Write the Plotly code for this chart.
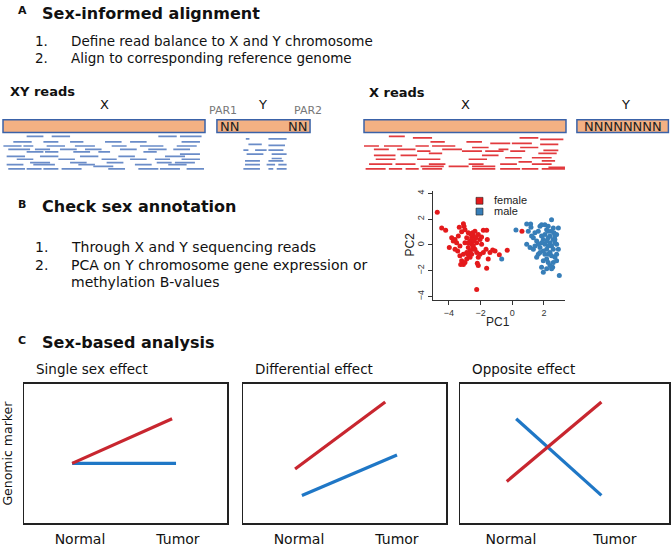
import plotly.graph_objects as go

W, H = 672, 547
FONT = "DejaVu Sans"
SANS = "Liberation Sans"

# ---------------- data ----------------
# Panel A: chromosome bars (genome units)
xy_chrom_start = [0, 105.9]
xy_chrom_end = [100, 152.0]
x_chrom_start = [0, 105.4]
x_chrom_end = [100, 150.7]
bar_depth = [-5.15, -0.15]

# XY reads (blue): start, end, depth
xy_read_start = [11.7, 24.1, 76.9, 87.6,
                 5.1, 20.0, 33.2, 50.5, 62.9, 88.4,
                 0.2, 10.1, 21.6, 35.6, 53.8, 67.8, 86.0,
                 2.6, 15.8, 28.2, 40.6, 57.9, 71.9, 84.3,
                 11.7, 20.8, 34.8, 47.2, 69.5,
                 87.6,
                 1.8, 18.3, 38.1, 57.1, 80.2,
                 6.8, 27.4, 48.8, 62.9, 75.2, 88.4,
                 13.4, 33.2, 51.3, 76.1, 85.1,
                 1.8, 15.0, 37.3, 65.3, 81.8,
                 44.7,
                 2.6, 11.7, 20.0, 29.0, 52.1, 67.0, 77.7, 90.9,
                 120.2, 131.4, 121.5, 131.4, 119.0, 124.8, 131.4,
                 120.6, 133.0, 133.0, 119.8, 131.4,
                 119.8, 130.5, 136.3, 119.0, 131.4, 135.5]
xy_read_end = [20.0, 33.2, 86.0, 98.3,
               14.2, 27.4, 39.8, 58.7, 71.1, 97.5,
               9.2, 15.0, 30.7, 45.5, 61.2, 79.4, 95.9,
               13.4, 23.3, 36.5, 48.8, 66.2, 81.0, 92.6,
               20.0, 27.4, 43.1, 53.0, 76.1,
               97.5,
               10.9, 27.4, 47.2, 65.3, 90.1,
               15.0, 35.6, 56.3, 71.1, 82.7, 97.5,
               23.3, 41.4, 59.6, 83.5, 95.0,
               10.1, 25.7, 45.5, 73.6, 90.9,
               54.6,
               10.9, 19.1, 27.4, 38.9, 60.4, 76.9, 87.6, 99.5,
               122.0, 140.4, 128.1, 139.6, 121.5, 130.5, 138.8,
               128.9, 140.4, 138.0, 127.2, 138.8,
               127.2, 134.7, 140.4, 127.2, 133.8, 140.4]
xy_read_depth = [1.3, 1.3, 1.3, 1.3,
                 3.5, 3.5, 3.5, 3.5, 3.5, 3.5,
                 5.1, 5.1, 5.1, 5.1, 5.1, 5.1, 5.1,
                 6.4, 6.4, 6.4, 6.4, 6.4, 6.4, 6.4,
                 7.4, 7.4, 7.4, 7.4, 7.4,
                 8.3,
                 9.2, 9.2, 9.2, 9.2, 9.2,
                 10.3, 10.3, 10.3, 10.3, 10.3, 10.3,
                 11.6, 11.6, 11.6, 11.6, 11.6,
                 12.4, 12.4, 12.4, 12.4, 12.4,
                 13.1,
                 14.1, 14.1, 14.1, 14.1, 14.1, 14.1, 14.1, 14.1,
                 2.3, 2.3, 4.5, 4.9, 6.7, 6.7, 6.7,
                 8.3, 8.3, 10.0, 10.9, 10.9,
                 12.4, 12.4, 12.4, 14.1, 14.1, 14.1]

# X reads (red): start, end, depth
x_read_start = [12.3, 24.2, 77.0, 87.2, 32.9, 50.7, 62.5, 73.2, 87.2,
                0.0, 9.9, 25.5, 33.7, 53.5, 77.3,
                4.9, 16.4, 38.7, 66.6, 88.8,
                26.3, 48.5, 60.0, 72.4, 32.1, 86.3,
                4.9, 18.1, 58.4, 69.9, 83.1,
                5.8, 26.3, 51.8, 88.0, 76.5,
                2.5, 15.6, 32.1, 51.8, 67.4, 83.1,
                28.0, 41.9, 53.5, 91.3,
                0.8, 12.3, 20.6, 28.8, 53.5, 67.4, 78.1, 88.0]
x_read_end = [20.2, 33.7, 86.3, 98.7, 40.0, 58.4, 72.4, 83.1, 96.2,
              7.4, 18.9, 32.1, 45.2, 61.7, 86.3,
              12.3, 25.5, 48.5, 71.5, 96.2,
              32.9, 58.4, 69.1, 79.8, 38.7, 95.4,
              15.6, 26.3, 66.6, 78.1, 92.9,
              15.6, 37.8, 60.9, 94.6, 83.1,
              14.0, 25.5, 40.3, 59.2, 75.7, 92.9,
              39.5, 51.8, 65.0, 99.5,
              10.7, 18.9, 27.1, 38.7, 65.0, 77.3, 86.3, 99.5]
x_read_depth = [1.3, 1.9, 1.9, 2.5, 3.5, 3.5, 4.1, 4.1, 4.5,
                5.1, 5.1, 5.1, 5.1, 5.7, 5.7,
                6.4, 6.4, 6.4, 6.4, 6.8,
                7.1, 7.1, 7.1, 7.1, 8.0, 8.0,
                8.8, 8.8, 8.8, 9.7, 9.7,
                10.3, 10.3, 10.3, 10.9, 11.3,
                12.2, 12.2, 12.2, 12.2, 12.2, 12.2,
                13.1, 13.1, 13.1, 13.5,
                14.1, 14.1, 14.1, 14.1, 14.1, 14.1, 14.1, 14.1]

# Panel B: PCA
female_pc1 = [-4.74, -4.46, -4.21, -3.98, -3.83, -3.73, -3.62, -3.41, -3.35, -3.09,
              -3.05, -2.99, -3.20, -3.52, -3.45, -3.31, -3.20, -3.26, -3.09, -2.99,
              -2.88, -2.78, -2.67, -2.78, -2.57, -2.67, -2.57, -2.46, -2.51, -2.36,
              -2.63, -2.88, -2.99, -2.78, -2.46, -2.36, -2.25, -2.15, -2.04, -1.94,
              -2.04, -1.94, -2.15, -2.29, -2.42, -2.25, -2.51, -2.57, -2.67, -2.88,
              -3.09, -1.83, -1.62, -1.58, -1.66, -1.52, -1.41, -1.24, -1.62, -2.15,
              -2.21, -1.09, -0.82, -0.32, -2.25, 0.61, -3.31, -3.62, -1.83, -2.78]
female_pc2 = [2.54, 1.32, 1.14, -0.20, 0.56, 0.30, 0.43, 0.69, 1.37, 1.65,
              1.45, 1.19, 1.02, 0.18, -0.46, -0.84, -1.22, -1.52, -1.52, -1.35,
              -1.09, -0.76, -0.46, -0.20, 0.05, 0.30, 0.56, 0.76, 0.94, 1.07,
              0.86, 0.56, 0.18, 0.18, -0.08, -0.33, -0.58, -0.96, -0.71, 0.05,
              0.43, 0.61, 0.81, 0.56, 0.30, 0.18, -0.33, -0.71, -0.96, -0.58,
              -0.71, 1.14, 1.14, 0.43, -0.33, -1.09, -0.58, -0.38, -1.80, -1.60,
              -1.42, -0.46, -0.76, -0.41, -3.45, 1.07, -0.08, -0.33, -0.58, 0.94]
male_pc1 = [-0.67, 0.23, 0.91, 1.16, 1.18, 1.01, 0.91, 1.12, 1.33, 1.43,
            1.54, 1.33, 1.22, 1.43, 1.64, 1.75, 1.85, 2.06, 2.27, 2.48,
            2.59, 2.91, 2.80, 2.69, 2.80, 2.91, 2.80, 2.69, 2.59, 2.55,
            2.48, 2.97, 2.17, 1.96, 1.85, 1.96, 2.17, 2.38, 2.27, 2.17,
            2.06, 1.96, 1.85, 2.06, 2.27, 2.38, 2.48, 2.59, 2.38, 2.48,
            2.27, 2.17, 1.75, 1.64, 1.54, 1.75, 1.96, 2.48, 2.69, 2.63,
            2.69, 2.17, 2.38, 2.59, 2.27, 2.06, 1.85, 1.64, 2.27, 2.80]
male_pc2 = [-1.09, 1.17, 1.62, 1.62, 1.37, 1.07, 0.05, -0.20, -0.33, -0.08,
            0.30, 0.56, 0.69, 0.94, 1.07, 1.45, 1.57, 1.57, 1.45, 1.95,
            1.32, 1.32, 0.81, 0.43, 0.05, -0.33, -0.71, -0.96, -1.35, -1.73,
            -1.85, -2.36, -1.09, -1.22, -1.73, -2.11, -1.85, -1.60, -0.71, -0.33,
            0.05, 0.43, 0.69, 0.81, 0.56, 0.18, -0.08, -0.33, -0.58, 1.07,
            1.07, 1.19, -0.20, -0.71, -0.96, -0.58, -0.46, -0.84, 0.69, 0.94,
            0.18, 0.30, 0.69, 0.43, -0.08, -0.71, 0.18, 0.05, -1.35, -1.22]
pc1_ticks = [-4, -2, 0, 2]
pc2_ticks = [-4, -2, 0, 2, 4]

# Panel C: schematic lines (x: 0 = Normal, 1 = Tumor)
stage_labels = ["Normal", "Tumor"]
single_female_x = [-0.08, 0.94]
single_female_y = [4.3, 7.5]
single_male_x = [-0.08, 0.98]
single_male_y = [4.3, 4.3]
diff_female_x = [-0.04, 0.88]
diff_female_y = [3.9, 8.7]
diff_male_x = [0.03, 1.0]
diff_male_y = [2.0, 4.9]
opp_female_x = [-0.04, 0.87]
opp_female_y = [3.0, 8.7]
opp_male_x = [0.05, 0.87]
opp_male_y = [7.5, 2.0]

# ---------------- helpers ----------------
def px(x):
    return x / W


def py(y):
    return 1 - y / H


def segs(starts, ends, depths):
    xs, ys = [], []
    for s, e, d in zip(starts, ends, depths):
        xs += [s, e, None]
        ys += [d, d, None]
    return xs, ys


fig = go.Figure()

# reads
bx, byy = segs(xy_read_start, xy_read_end, xy_read_depth)
fig.add_trace(go.Scatter(x=bx, y=byy, mode="lines", xaxis="x", yaxis="y",
                         line=dict(color="#6A8CC8", width=1.7), showlegend=False,
                         hoverinfo="skip"))
rx, ry = segs(x_read_start, x_read_end, x_read_depth)
fig.add_trace(go.Scatter(x=rx, y=ry, mode="lines", xaxis="x2", yaxis="y",
                         line=dict(color="#E23A3E", width=1.7), showlegend=False,
                         hoverinfo="skip"))

shapes = []
for s, e in zip(xy_chrom_start, xy_chrom_end):
    shapes.append(dict(type="rect", xref="x", yref="y", x0=s, x1=e,
                       y0=bar_depth[0], y1=bar_depth[1], layer="below",
                       fillcolor="#F4B183", line=dict(color="#3A62A8", width=1.5)))
for s, e in zip(x_chrom_start, x_chrom_end):
    shapes.append(dict(type="rect", xref="x2", yref="y", x0=s, x1=e,
                       y0=bar_depth[0], y1=bar_depth[1], layer="below",
                       fillcolor="#F4B183", line=dict(color="#3A62A8", width=1.5)))

# PCA
fig.add_trace(go.Scatter(x=female_pc1, y=female_pc2, mode="markers", xaxis="x3", yaxis="y3",
                         marker=dict(color="#E41A1C", size=5), name="female", showlegend=False))
fig.add_trace(go.Scatter(x=male_pc1, y=male_pc2, mode="markers", xaxis="x3", yaxis="y3",
                         marker=dict(color="#377EB8", size=5), name="male", showlegend=False))

RED = "#C8262F"
BLUE = "#1F77C6"
panels = [
    (single_female_x, single_female_y, single_male_x, single_male_y, "4"),
    (diff_female_x, diff_female_y, diff_male_x, diff_male_y, "5"),
    (opp_female_x, opp_female_y, opp_male_x, opp_male_y, "6"),
]
for fx, fy, mx, my, k in panels:
    fig.add_trace(go.Scatter(x=mx, y=my, mode="lines", xaxis="x" + k, yaxis="y" + k,
                             line=dict(color=BLUE, width=3.2), showlegend=False))
    fig.add_trace(go.Scatter(x=fx, y=fy, mode="lines", xaxis="x" + k, yaxis="y" + k,
                             line=dict(color=RED, width=3.2), showlegend=False))

hidden = dict(visible=False)
layout = dict(
    width=W, height=H, autosize=False,
    margin=dict(l=0, r=0, t=0, b=0),
    paper_bgcolor="white", plot_bgcolor="white",
    showlegend=False,
    xaxis=dict(domain=[0, 0.5], range=[-1.49, 164.85], **hidden),
    xaxis2=dict(domain=[0.5, 1], range=[-13.86, 152.48], **hidden),
    yaxis=dict(domain=[py(176), py(112)], range=[16.38, -8.23], anchor="x", **hidden),
    xaxis3=dict(domain=[px(433), px(565)], range=[-5.01, 3.33], anchor="y3",
                showline=True, linecolor="#333", linewidth=1, ticks="outside",
                ticklen=4, tickcolor="#333", tickvals=pc1_ticks,
                tickfont=dict(family=SANS, size=9, color="#333"),
                showgrid=False, zeroline=False),
    yaxis3=dict(domain=[py(304), py(193)], range=[-4.30, 4.15], anchor="x3",
                showline=True, linecolor="#333", linewidth=1, ticks="outside",
                ticklen=4, tickcolor="#333", tickvals=pc2_ticks, tickangle=-90,
                tickfont=dict(family=SANS, size=9, color="#333"),
                showgrid=False, zeroline=False),
)
boxes = {"4": (24, 227, [-0.571, 1.5]), "5": (243, 446, [-0.571, 1.5]),
         "6": (460, 669, [-0.49, 1.52])}
for k, (l, r, rng) in boxes.items():
    layout["xaxis" + k] = dict(domain=[px(l), px(r)], range=rng, anchor="y" + k,
                               showline=True, mirror=True, linecolor="#222", linewidth=1.5,
                               tickvals=[0, 1], ticktext=stage_labels, ticks="",
                               ticklabelstandoff=2,
                               tickfont=dict(family=FONT, size=14, color="#111"),
                               showgrid=False, zeroline=False)
    layout["yaxis" + k] = dict(domain=[py(531), py(389)], range=[0, 10], anchor="x" + k,
                               showline=True, mirror=True, linecolor="#222", linewidth=1.5,
                               showticklabels=False, ticks="",
                               showgrid=False, zeroline=False)

# legend for PCA (drawn by hand)
shapes.append(dict(type="rect", xref="paper", yref="paper", x0=px(476), x1=px(483),
                   y0=py(206), y1=py(199), fillcolor="#E41A1C", line=dict(color="#222", width=0.6)))
shapes.append(dict(type="rect", xref="paper", yref="paper", x0=px(476), x1=px(483),
                   y0=py(217), y1=py(210), fillcolor="#377EB8", line=dict(color="#222", width=0.6)))

ann = []


def text(t, x, y, size=14, bold=False, anchor="left", color="#111", family=FONT, angle=0):
    if bold:
        t = "<b>" + t + "</b>"
    ann.append(dict(text=t, x=px(x), y=py(y), xref="paper", yref="paper",
                    xanchor=anchor, yanchor="middle", showarrow=False, textangle=angle,
                    font=dict(family=family, size=size, color=color)))


# Panel A texts
text("A", 22, 9, size=11, bold=True, anchor="center")
text("Sex-informed alignment", 40, 12, size=16, bold=True)
text("1.", 33, 40, size=13.5)
text("Define read balance to X and Y chromosome", 69, 40, size=13.5)
text("2.", 33, 57, size=13.5)
text("Align to corresponding reference genome", 69, 57, size=13.5)
text("XY reads", 8, 91, size=13, bold=True)
text("X", 104, 104, size=13, anchor="center")
text("Y", 262, 104, size=13, anchor="center")
text("PAR1", 223, 111, size=11, anchor="center", color="#777")
text("PAR2", 308, 111, size=11, anchor="center", color="#777")
text("X reads", 367, 92, size=13, bold=True)
text("X", 465, 104, size=13, anchor="center")
text("Y", 625, 104, size=13, anchor="center")
for t, xu, ref in [("NN", 111.9, "x"), ("NN", 146.0, "x"), ("NNNNNNNN", 128.05, "x2")]:
    ann.append(dict(text=t, x=xu, y=sum(bar_depth) / 2, xref=ref, yref="y",
                    xanchor="center", yanchor="middle", showarrow=False,
                    font=dict(family=FONT, size=13, color="#222")))

# Panel B texts
text("B", 22, 206, size=11, bold=True, anchor="center")
text("Check sex annotation", 40, 208, size=16, bold=True)
text("1.", 33, 250, size=14)
text("Through X and Y sequencing reads", 69, 250, size=14)
text("2.", 33, 268, size=14)
text("PCA on Y chromosome gene expression or", 69, 268, size=14)
text("methylation B-values", 69, 285, size=14)
text("PC2", 410, 247, size=12, anchor="center", family=SANS, angle=-90, color="#222")
text("PC1", 498, 326, size=12, anchor="center", family=SANS, color="#222")
text("female", 492, 202, size=11, family=SANS, color="#222")
text("male", 492, 213, size=11, family=SANS, color="#222")

# Panel C texts
text("C", 22, 345, size=11, bold=True, anchor="center")
text("Sex-based analysis", 40, 347, size=16, bold=True)
text("Single sex effect", 34, 374, size=13.5)
text("Differential effect", 253, 374, size=13.5)
text("Opposite effect", 470, 374, size=13.5)
text("Genomic marker", 8, 460, size=12.5, anchor="center", angle=-90)

layout["shapes"] = shapes
layout["annotations"] = ann
fig.update_layout(**layout)
fig.write_html("out.html", config={"displayModeBar": False, "staticPlot": True},
               post_script="document.body.style.margin='0';document.body.style.overflow='hidden';")
